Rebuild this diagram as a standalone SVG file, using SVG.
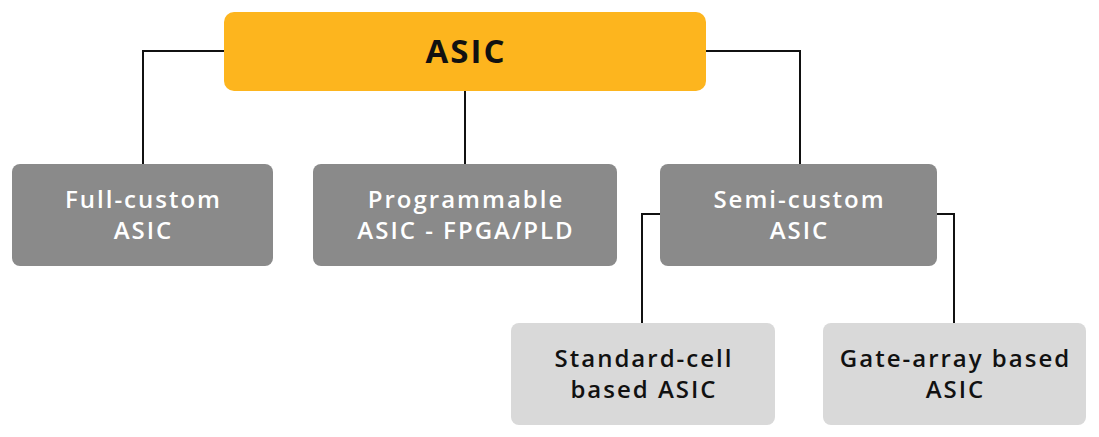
<svg xmlns="http://www.w3.org/2000/svg" width="1099" height="437" viewBox="0 0 1099 437">
<style>
.t{font-family:"Open Sans","Liberation Sans",sans-serif;font-weight:600;font-size:24px;letter-spacing:2px;text-anchor:middle}
.w{fill:#ffffff}
.d{fill:#111111}
.g{fill:#8a8a8a}
.l{fill:#d9d9d9}
.c{fill:none;stroke:#111;stroke-width:2}
</style>
<rect width="1099" height="437" fill="#ffffff"/>
<g id="connectors">
<path class="c" d="M224 51H143V164"/>
<path class="c" d="M465 91V164"/>
<path class="c" d="M706 51H800V164"/>
<path class="c" d="M660 214H642V324"/>
<path class="c" d="M937 214H954V324"/>
</g>
<g id="asic">
<rect x="224" y="12" width="482" height="79" rx="10" fill="#fdb51e"/>
<text x="466" y="63" class="t" style="font-weight:700;font-size:33px;letter-spacing:2px" fill="#111">ASIC</text>
</g>
<g id="full-custom">
<rect class="g" x="12" y="164" width="261" height="102" rx="8"/>
<text class="t w" x="143.5" y="208">Full-custom</text>
<text class="t w" x="143.5" y="239">ASIC</text>
</g>
<g id="programmable">
<rect class="g" x="313" y="164" width="304" height="102" rx="8"/>
<text class="t w" x="466" y="208">Programmable</text>
<text class="t w" x="466" y="239">ASIC - FPGA/PLD</text>
</g>
<g id="semi-custom">
<rect class="g" x="660" y="164" width="277" height="102" rx="8"/>
<text class="t w" x="799.5" y="208">Semi-custom</text>
<text class="t w" x="799.5" y="239">ASIC</text>
</g>
<g id="standard-cell">
<rect class="l" x="511" y="323" width="264" height="102" rx="8"/>
<text class="t d" x="644" y="367">Standard-cell</text>
<text class="t d" x="644" y="398">based ASIC</text>
</g>
<g id="gate-array">
<rect class="l" x="823" y="323" width="263" height="102" rx="8"/>
<text class="t d" x="955.5" y="367">Gate-array based</text>
<text class="t d" x="955.5" y="398">ASIC</text>
</g>
</svg>
